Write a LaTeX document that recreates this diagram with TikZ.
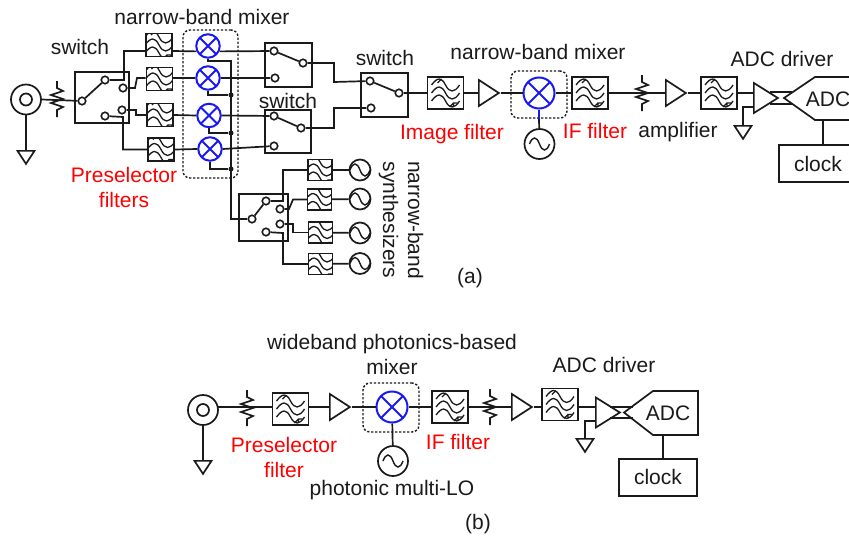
\documentclass[tikz,border=0pt]{standalone}
\usepackage{fontspec}
\setmainfont{Liberation Sans}
\usetikzlibrary{shapes.geometric,calc}
\definecolor{ink}{HTML}{1A1A1A}
\definecolor{mixblue}{HTML}{1A1AF0}
\tikzset{
  wire/.style={line width=1.7pt,draw=ink,line join=miter},
  lbl/.style={font=\fontsize{21}{25}\selectfont,text=ink,inner sep=0pt,align=center},
  redlbl/.style={lbl,text=red},
  boxn/.style={draw=ink,line width=1.7pt,rectangle,inner sep=0pt,minimum width=#1},
  contact/.style={draw=ink,line width=1.6pt,circle,inner sep=0pt,minimum size=7.5pt},
  jdot/.style={fill=ink,circle,inner sep=0pt,minimum size=5pt},
  dotbox/.style={draw=ink,line width=1.4pt,rectangle,rounded corners=7pt,dash pattern=on 2.2pt off 1.8pt,inner sep=0pt},
  filterbox/.style={draw=ink,line width=1.7pt,rectangle,inner sep=0pt,minimum width=36pt*#1,minimum height=32pt*#1,
    path picture={\begin{scope}[shift={(path picture bounding box.center)},scale=#1,line width=1.3pt,draw=ink]
      \foreach \yy in {-8,0,8}{\draw (-14,\yy) .. controls (-8,\yy-8) and (-4,\yy-8) .. (0,\yy) .. controls (4,\yy+8) and (9,\yy+8) .. (14,\yy);}
      \draw (-8,-10) -- (-4,-14);
      \draw (4,14) -- (8,10) (8,14) -- (8,10) -- (12,10);
    \end{scope}}},
  mixer/.style={draw=mixblue,line width=2pt,circle,inner sep=0pt,minimum size=#1,
    path picture={\draw[mixblue,line width=2pt] (path picture bounding box.south west) -- (path picture bounding box.north east)
      (path picture bounding box.north west) -- (path picture bounding box.south east);}},
  sinesrc/.style={draw=ink,line width=1.7pt,circle,inner sep=0pt,minimum size=#1,
    path picture={\begin{scope}[shift={(path picture bounding box.center)},scale=#1/30,line width=1.4pt]
      \draw[ink] (-10,0) .. controls (-7,-8) and (-3,-8) .. (0,0) .. controls (3,8) and (7,8) .. (10,0);
    \end{scope}}},
  coax/.style={draw=ink,line width=1.7pt,circle,inner sep=0pt,minimum size=30pt},
  ampn/.style={draw=ink,line width=1.7pt,isosceles triangle,isosceles triangle stretches,inner sep=0pt,minimum width=26pt,minimum height=20pt,anchor=lower side},
  drvn/.style={ampn,minimum width=30pt,minimum height=24pt},
  gnd/.style={draw=ink,line width=1.7pt,isosceles triangle,isosceles triangle stretches,shape border rotate=270,inner sep=0pt,minimum width=17pt,minimum height=13pt,anchor=lower side},
  atten/.pic={\draw[line width=1.7pt,ink] (0,-18) -- (0,-11) -- (6,-8) -- (-6,-4) -- (6,0) -- (-6,4) -- (6,8) -- (0,11) -- (0,18);},
}
\begin{document}
\begin{tikzpicture}[x=1pt,y=-1pt]
\useasboundingbox (0,0) rectangle (849,536);
% ===== (a) input
\node[coax] (src) at (26,99.5) {};
\node[draw=ink,line width=1.7pt,circle,inner sep=0pt,minimum size=12pt] (srcin) at (26,99.5) {};
\node[gnd] (g1) at (26,150) {};
\draw[wire] (src) -- (g1.lower side);
\coordinate (r1) at (57,99);
\pic at (r1) {atten};
% input switch
\node[boxn=54pt,minimum height=51pt] (sw0) at (102,97.5) {};
\node[contact] (c0) at (82,101) {};
\node[contact] (c1) at (105,80) {};
\node[contact] (c2) at (123,88) {};
\node[contact] (c3) at (122,110) {};
\node[contact] (c4) at (105,116) {};
\draw[wire] (src.east) -- (c0);
\draw[wire] (c0) -- (c1);
% preselector filters
\node[filterbox=.72] (f1) at (159,45) {};
\node[filterbox=.72] (f2) at (159.5,79) {};
\node[filterbox=.72] (f3) at (160,115) {};
\node[filterbox=.72] (f4) at (161,149.5) {};
\draw[wire] (c1) -- (124,80) -- (124,51) -- (f1.west |- 0,51);
\draw[wire] (c2) -- (135,88) -- (137,78) -- (f2.west |- 0,78);
\draw[wire] (c3) -- (136,110) -- (136,115) -- (f3.west);
\draw[wire] (c4) -- (123,117) -- (123,149.5) -- (f4.west);
% mixers
\node[dotbox,minimum width=55pt,minimum height=148pt] (dots1) at (210.5,104) {};
\node[mixer=23.5pt] (m1) at (208,46) {};
\node[mixer=23.5pt] (m2) at (208,78) {};
\node[mixer=23.5pt] (m3) at (209,115.5) {};
\node[mixer=23.5pt] (m4) at (210,149) {};
% output switches
\node[boxn=47pt,minimum height=44pt] (sw1) at (288.5,65) {};
\node[contact] (s1a) at (274,51) {};
\node[contact] (s1b) at (275,78) {};
\node[contact] (s1o) at (303,63) {};
\node[boxn=46pt,minimum height=43pt] (sw2) at (288,131.5) {};
\node[contact] (s2a) at (274,116) {};
\node[contact] (s2b) at (274,146) {};
\node[contact] (s2o) at (301,128) {};
\draw[wire] (s1a) -- (s1o);
\draw[wire] (s2a) -- (s2o);
\draw[wire] (f1.east |- 0,51) -- (m1.205);
\draw[wire] (m1.335) -- (s1a);
\draw[wire] (f2.east |- 0,78) -- (m2.west);
\draw[wire] (m2.east) -- (s1b);
\draw[wire] (f3.east) -- (m3.west);
\draw[wire] (m3.east) -- (s2a);
\draw[wire] (f4.east) -- (m4.west);
\draw[wire] (m4.east) -- (s2b);
% LO bus
\node[jdot] (d2) at (231,95) {};
\node[jdot] (d3) at (231,133) {};
\node[jdot] (d4) at (231,169) {};
\node[contact] (b0) at (252,219) {};
\draw[wire] (m1.south) -- (208,61) -- (231,61) -- (231,219) -- (b0);
\draw[wire] (m2.south) |- (d2);
\draw[wire] (m3.south) |- (d3);
\draw[wire] (m4.south) |- (d4);
% synth bank
\node[boxn=49pt,minimum height=47pt] (sw3) at (263.5,217.5) {};
\node[contact] (b1) at (266,201) {};
\node[contact] (b2) at (280,209) {};
\node[contact] (b3) at (280,224) {};
\node[contact] (b4) at (266,232) {};
\draw[wire] (b0) -- (b1);
\node[filterbox=.66] (g1f) at (320,170) {};
\node[filterbox=.66] (g2f) at (319.5,199.5) {};
\node[filterbox=.66] (g3f) at (320.5,232.5) {};
\node[filterbox=.66] (g4f) at (320.5,264) {};
\node[sinesrc=21pt] (o1) at (360,170) {};
\node[sinesrc=21pt] (o2) at (360,199) {};
\node[sinesrc=21pt] (o3) at (360,233) {};
\node[sinesrc=21pt] (o4) at (360,263.5) {};
\draw[wire] (b1) -- (283,201) -- (283,170) -- (g1f.west);
\draw[wire] (b2) -- (289,209) -- (293,199.5) -- (g2f.west);
\draw[wire] (b3) -- (293,224) -- (293,232.5) -- (g3f.west);
\draw[wire] (b4) -- (283,233) -- (283,264) -- (g4f.west);
\draw[wire] (g1f) -- (o1);
\draw[wire] (g2f) -- (o2);
\draw[wire] (g3f) -- (o3);
\draw[wire] (g4f) -- (o4);
% combining switch
\node[boxn=47pt,minimum height=44pt] (sw4) at (384.5,95) {};
\node[contact] (t1) at (370,81) {};
\node[contact] (t2) at (371,108) {};
\node[contact] (t3) at (399,93) {};
\draw[wire] (t1) -- (t3);
\draw[wire] (s1o) -- (334,63) -- (334,82) -- (t1);
\draw[wire] (s2o) -- (334,128) -- (334,108) -- (t2);
% IF chain
\node[filterbox=1] (imf) at (445.5,93) {};
\draw[wire] (t3) -- (imf);
\node[ampn] (a1) at (478,93) {};
\draw[wire] (imf) -- (a1.lower side);
\node[dotbox,minimum width=56pt,minimum height=47pt] (dots2) at (539,94.5) {};
\node[mixer=31pt] (mx) at (539,93) {};
\node[filterbox=1] (iff) at (590,93) {};
\draw[wire] (a1.apex) -- (mx);
\draw[wire] (mx) -- (iff);
\node[sinesrc=30pt] (lo) at (539.5,144) {};
\draw[wire,draw=mixblue,line width=2pt] (mx.south) -- (dots2.south);
\draw[wire] (dots2.south) -- (lo);
\coordinate (r2) at (642,93);
\pic at (r2) {atten};
\node[ampn] (a2) at (665,93) {};
\draw[wire] (iff) -- (a2.lower side);
\node[filterbox=1] (f5) at (719,93) {};
\draw[wire] (a2.apex) -- (f5);
\node[drvn] (drv) at (753,98) {};
\draw[wire] (f5.east) -- (drv.lower side |- 0,93);
\node[gnd] (g2) at (743,125) {};
\draw[wire] (753,107) -- (743,107) -- (g2.lower side);
\draw[wire] (770,92) -- (792,92) (770,104) -- (792,104);
\draw[wire] (852,77) -- (815,77) -- (784,98) -- (815,120) -- (852,120);
\node[lbl] (adc1) at (828,99) {ADC};
\node[draw=ink,line width=1.7pt,rectangle,inner sep=0pt,minimum width=76pt,minimum height=37pt] (clk1) at (817,163.5) {};
\node[lbl] at (818,163.5) {clock};
\coordinate (adc1b) at (823,120);
\draw[wire] (adc1b) -- (adc1b |- clk1.north);
% labels (a)
\node[lbl] (l1) at (202,17) {narrow-band mixer};
\node[lbl] (l2) at (80,47) {switch};
\node[lbl] (l3) at (288,101) {switch};
\node[lbl] (l4) at (385,58) {switch};
\node[lbl] (l5) at (538,52) {narrow-band mixer};
\node[redlbl] (l6) at (452,134) {Image filter};
\node[redlbl] (l7) at (595,131) {IF filter};
\node[lbl] (l8) at (678,132) {amplifier};
\node[lbl] (l9) at (782,59) {ADC driver};
\node[redlbl] (l10) at (124,187) {Preselector\\filters};
\node[lbl,rotate=-90] (l11) at (401,220) {narrow-band\\synthesizers};
\node[lbl] (l12) at (470,278) {(a)};
% ===== (b)
\node[coax] (bsrc) at (203,410) {};
\node[draw=ink,line width=1.7pt,circle,inner sep=0pt,minimum size=12pt] (bsrcin) at (203,410) {};
\node[gnd] (bg1) at (203,460) {};
\draw[wire] (bsrc) -- (bg1.lower side);
\coordinate (br1) at (247,408);
\pic at (br1) {atten};
\node[filterbox=1] (bf1) at (290.5,409) {};
\draw[wire] (218,407) -- (bf1.west |- 0,407);
\node[ampn] (ba1) at (329,407) {};
\draw[wire] (bf1.east |- 0,407) -- (ba1.lower side);
\node[dotbox,minimum width=56pt,minimum height=49pt] (bdots) at (391,407.5) {};
\node[mixer=31pt] (bmx) at (392,407) {};
\node[filterbox=1] (bf2) at (450,407) {};
\draw[wire] (ba1.apex) -- (bmx);
\draw[wire] (bmx) -- (bf2);
\node[sinesrc=30pt] (blo) at (393,461) {};
\draw[wire] (bmx) -- (blo);
\coordinate (br2) at (490,407);
\pic at (br2) {atten};
\node[ampn] (ba2) at (511,407) {};
\draw[wire] (bf2) -- (ba2.lower side);
\node[filterbox=1] (bf3) at (560,404.5) {};
\draw[wire] (ba2.apex) -- (bf3.west |- 0,407);
\node[drvn] (bdrv) at (595,412.5) {};
\draw[wire] (bf3.east |- 0,407) -- (bdrv.lower side |- 0,407);
\node[gnd] (bg2) at (585,438) {};
\draw[wire] (595,421) -- (585,421) -- (bg2.lower side);
\draw[wire] (610,407) -- (633,407) (610,418) -- (633,418);
\draw[wire] (624,412.5) -- (653,391) -- (698,391) -- (698,435) -- (653,435) -- cycle;
\node[lbl] (adc2) at (668,413) {ADC};
\node[draw=ink,line width=1.7pt,rectangle,inner sep=0pt,minimum width=78pt,minimum height=37pt] (clk2) at (658,477.5) {};
\node[lbl] at (658,477) {clock};
\coordinate (adc2b) at (663,435);
\draw[wire] (adc2b) -- (adc2b |- clk2.north);
% labels (b)
\node[lbl] (n1) at (392,354.5) {wideband photonics-based\\mixer};
\node[redlbl] (n2) at (284,457) {Preselector\\filter};
\node[redlbl] (n3) at (458,442) {IF filter};
\node[lbl] (n4) at (392,490) {photonic multi-LO};
\node[lbl] (n5) at (604,365) {ADC driver};
\node[lbl] (n6) at (478,524) {(b)};
\end{tikzpicture}
\end{document}
